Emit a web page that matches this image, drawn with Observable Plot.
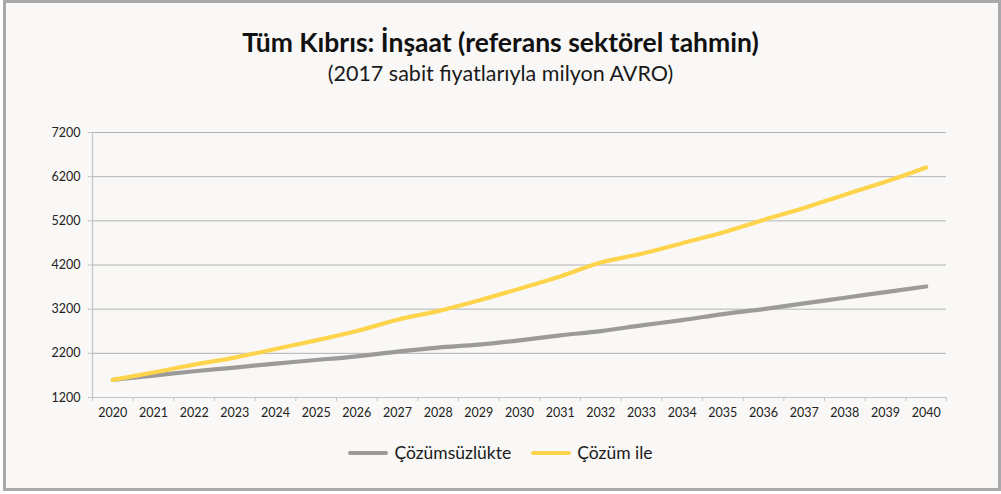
<!DOCTYPE html>
<html>
<head>
<meta charset="utf-8">
<script src="https://cdn.jsdelivr.net/npm/d3@7"></script>
<script src="https://cdn.jsdelivr.net/npm/@observablehq/plot@0.6"></script>
<style>
  html, body { margin: 0; padding: 0; background: #ffffff; }
  body { width: 1001px; height: 494px; position: relative; overflow: hidden; font-family: Lato, "Open Sans", sans-serif; }
  #frame { position: absolute; left: 3px; top: 0px; width: 998px; height: 491px; box-sizing: border-box;
           border: 3px solid #a9a9ac; background: #f9f8f6; }
  #title { position: absolute; left: 0; width: 1001px; top: 27px; text-align: center; font-weight: 700;
           font-size: 26.5px; line-height: 30px; color: #111; }
  #subtitle { position: absolute; left: 0; width: 1001px; top: 60px; text-align: center;
           font-size: 21.5px; line-height: 26px; color: #1a1a1a; }
  #chart { position: absolute; left: 0; top: 110px; }
  #legend { position: absolute; left: 0; width: 1001px; top: 442px; display: flex; justify-content: center;
            font-size: 17.5px; color: #1a1a1a; }
  .item { display: flex; align-items: center; margin: 0 10px; }
  .sw { width: 40px; height: 4px; border-radius: 2px; margin-right: 6px; }
</style>
</head>
<body>
<div id="frame"></div>
<div id="title">Tüm Kıbrıs: İnşaat (referans sektörel tahmin)</div>
<div id="subtitle">(2017 sabit fiyatlarıyla milyon AVRO)</div>
<div id="chart"></div>
<div id="legend"></div>
<script>
const years = [2020,2021,2022,2023,2024,2025,2026,2027,2028,2029,2030,2031,2032,2033,2034,2035,2036,2037,2038,2039,2040];
const cozumsuzlukte = [1600,1697,1794,1878,1968,2049,2133,2239,2330,2397,2494,2607,2704,2833,2953,3089,3202,3330,3459,3586,3714];
const cozumIle = [1600,1765,1945,2104,2298,2494,2704,2962,3156,3398,3662,3940,4256,4453,4693,4934,5221,5492,5793,6086,6409];
const yTicks = [1200,2200,3200,4200,5200,6200,7200];
const seriesNames = ["Çözümsüzlükte", "Çözüm ile"];
const seriesColors = ["#9d9b99", "#fed44c"];

const rows = [];
years.forEach((y, i) => {
  rows.push({year: y, value: cozumsuzlukte[i], series: seriesNames[0]});
  rows.push({year: y, value: cozumIle[i], series: seriesNames[1]});
});
const bounds = [years[0] - 0.5, ...years.map(y => y + 0.5)];
const xDomain = [bounds[0], bounds[bounds.length - 1]];

const chart = Plot.plot({
  width: 1001,
  height: 318,
  marginLeft: 92,
  marginRight: 55,
  marginTop: 22,
  marginBottom: 31,
  style: { background: "transparent", fontFamily: "Lato, 'Open Sans', sans-serif", fontSize: "12.5px", color: "#222" },
  x: { type: "linear", domain: xDomain },
  y: { domain: [yTicks[0], yTicks[yTicks.length - 1]] },
  color: { domain: seriesNames, range: seriesColors },
  marks: [
    Plot.gridY(yTicks.slice(1), { stroke: "#b3b3b3", strokeOpacity: 1, strokeWidth: 1 }),
    Plot.ruleY([yTicks[0]], { stroke: "#c4c4c4", strokeWidth: 1.2 }),
    Plot.ruleX([xDomain[0]], { stroke: "#c4c4c4", strokeWidth: 1.2 }),
    Plot.axisY(yTicks, { tickSize: 4, tickPadding: 8, stroke: "#c4c4c4", tickFormat: d => String(d), fill: "#222", label: null }),
    Plot.axisX(bounds, { tickSize: 4, tickFormat: () => "", stroke: "#c4c4c4", label: null }),
    Plot.axisX(years, { tickSize: 0, tickPadding: 11, tickFormat: d => String(d), fill: "#222", label: null }),
    Plot.line(rows, { x: "year", y: "value", z: "series", stroke: "series", strokeWidth: 4.2, curve: "monotone-x", strokeLinecap: "round" })
  ]
});
document.getElementById("chart").appendChild(chart);

const legend = document.getElementById("legend");
seriesNames.forEach((name, i) => {
  const it = document.createElement("div");
  it.className = "item";
  it.innerHTML = `<span class="sw" style="background:${seriesColors[i]}"></span><span>${name}</span>`;
  legend.appendChild(it);
});
</script>
</body>
</html>
